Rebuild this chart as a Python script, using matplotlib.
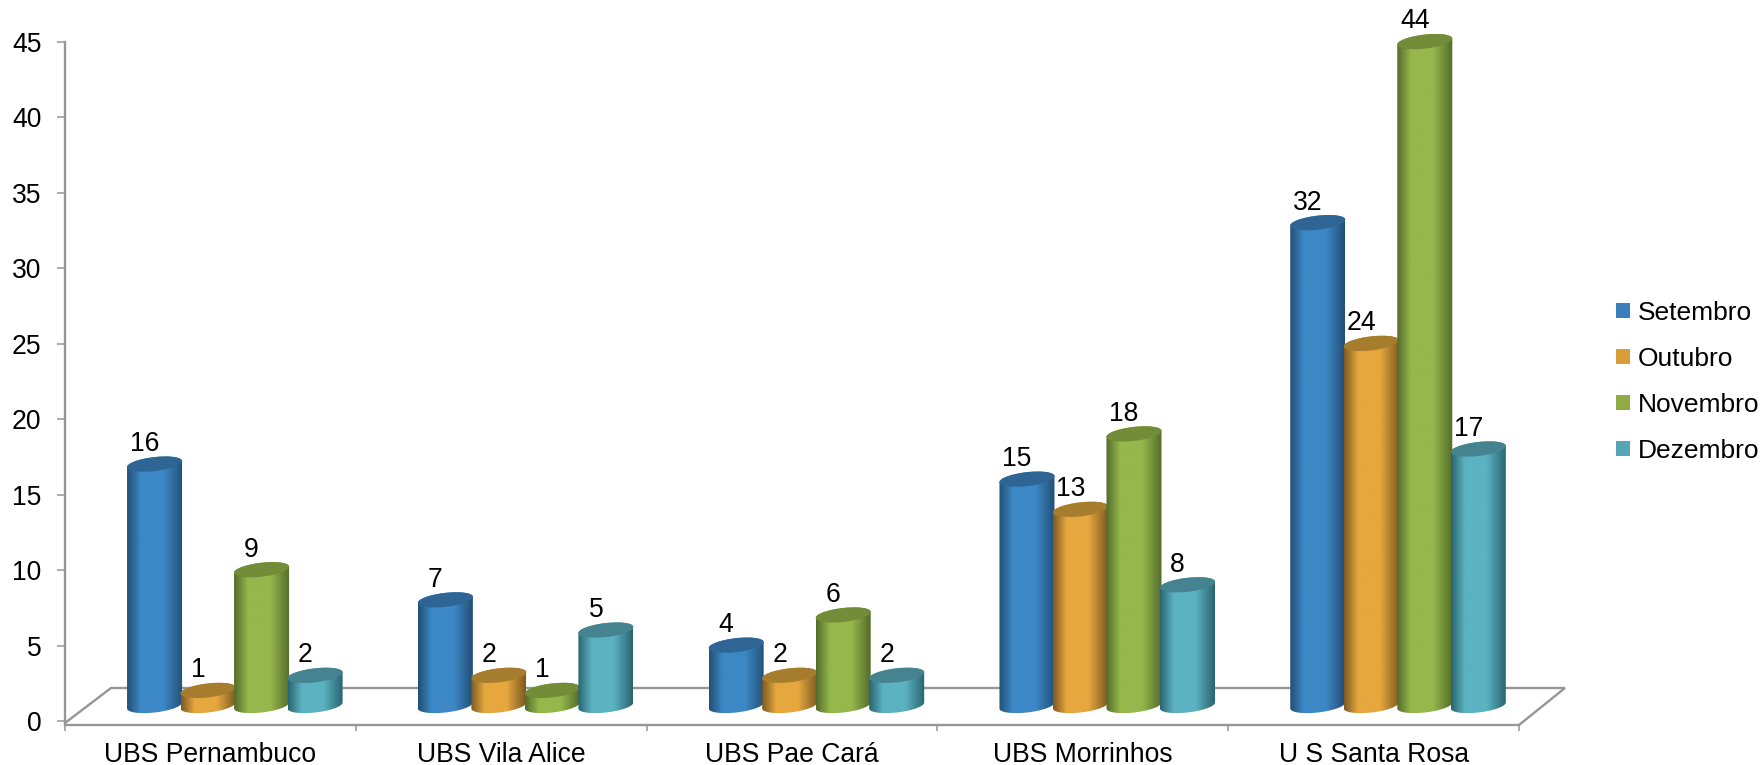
import numpy as np
import matplotlib
matplotlib.use('Agg')
import matplotlib.pyplot as plt
from matplotlib.colors import LinearSegmentedColormap
from matplotlib.patches import Patch, Polygon

categories = ['UBS Pernambuco', 'UBS Vila Alice', 'UBS Pae Cará', 'UBS Morrinhos', 'U S Santa Rosa']
setembro = [16, 7, 4, 15, 32]
outubro = [1, 2, 2, 13, 24]
novembro = [9, 1, 6, 18, 44]
dezembro = [2, 5, 2, 8, 17]
series_names = ['Setembro', 'Outubro', 'Novembro', 'Dezembro']
y_ticks = [0, 5, 10, 15, 20, 25, 30, 35, 40, 45]

# edge, middle, top ellipse, legend swatch
colors = [
    ('#234f75', '#3c88c6', '#2f6594', '#3a7ebb'),
    ('#7d5a22', '#e6a73e', '#a67c2d', '#d99d38'),
    ('#536c2b', '#95b74b', '#728c38', '#8fac45'),
    ('#2a6470', '#5cb2c1', '#468390', '#56a5b5'),
]

W, H = 1763, 765
GRAY = '#969696'
PX_X = 5 / 1454   # data units per pixel
PX_Y = 45 / 679
FS = 19.1

plt.rcParams['font.family'] = ['Liberation Sans', 'DejaVu Sans']
fig = plt.figure(figsize=(W / 100, H / 100), dpi=100, facecolor='white')
ax = fig.add_axes([65 / W, 1 - 721 / H, 1454 / W, 679 / H])


def ellipse_pts(cx, cy, t):
    # sheared ellipse, right side sits a bit higher than the left
    a = 27.5 * PX_X
    b = 7 * PX_Y
    shear = 3 * PX_Y
    return np.column_stack([cx + a * np.cos(t), cy + b * np.sin(t) + shear * np.cos(t)])


def draw_cylinder(cx, value, col):
    base = 15.5 * PX_Y
    top = base + value
    a = 27.5 * PX_X
    lower = ellipse_pts(cx, base, np.linspace(np.pi, 2 * np.pi, 50))
    upper = ellipse_pts(cx, top, np.linspace(0, np.pi, 50))
    body = Polygon(np.vstack([lower, upper]), closed=True, fc='none', ec='none', transform=ax.transData)
    ax.add_patch(body)
    body.set_clip_on(False)
    cmap = LinearSegmentedColormap.from_list('c', [(0, col[0]), (0.25, col[1]), (0.65, col[1]), (1, col[0])])
    im = ax.imshow(np.linspace(0, 1, 128).reshape(1, -1), cmap=cmap, aspect='auto', zorder=3,
                   extent=[cx - a, cx + a, base - 10 * PX_Y, top + 10 * PX_Y], interpolation='bilinear')
    # the tallest bar goes over the top of the axes
    im.set_clip_box(fig.bbox)
    im.set_clip_path(body)
    cap = ellipse_pts(cx, top, np.linspace(0, 2 * np.pi, 100))
    ax.add_patch(Polygon(cap, closed=True, fc=col[2], ec='none', zorder=3, clip_on=False))
    ax.annotate(str(value), (cx, top), xytext=(-7.2, 14.5), textcoords='offset points',
                ha='center', va='center', fontsize=FS, color='black', zorder=5, annotation_clip=False)


all_series = [setembro, outubro, novembro, dezembro]
for i in range(len(categories)):
    for j, values in enumerate(all_series):
        draw_cylinder(i + 0.308 + j * 0.184, values[i], colors[j])

# floor of the 3d box
dx, dy = 46 * PX_X, 33 * PX_Y
ax.plot([0, dx, 5 + dx, 5], [-2 * PX_Y, dy, dy, -4 * PX_Y], color=GRAY,
        lw=1.7, clip_on=False, zorder=1, solid_joinstyle='miter')

ax.set_xlim(0, 5)
ax.set_ylim(0, 45)
ax.set_yticks(y_ticks)
ax.set_xticks(range(6))
ax.set_xticklabels([])
ax.set_xticks(np.arange(5) + 0.5, categories, minor=True)
ax.tick_params(axis='x', which='major', length=4.5, width=1.1, color=GRAY)
ax.tick_params(axis='x', which='minor', length=0, pad=12.5, labelsize=FS)
ax.tick_params(axis='y', length=6, width=1.1, color=GRAY, pad=11, labelsize=FS)
for s in ['top', 'right']:
    ax.spines[s].set_visible(False)
ax.spines['bottom'].set_position(('data', -4 * PX_Y))
ax.spines['bottom'].set_color(GRAY)
ax.spines['bottom'].set_linewidth(1.7)
ax.spines['left'].set_color(GRAY)
ax.spines['left'].set_linewidth(1.7)
ax.spines['left'].set_bounds(0, 45)
ax.patch.set_alpha(0)

handles = [Patch(fc=c[3], ec='none', label=n) for c, n in zip(colors, series_names)]
fig.legend(handles=handles, loc='upper left', bbox_to_anchor=(1616 / W, 1 - 301 / H), frameon=False,
           fontsize=19, handlelength=0.53, handleheight=0.53, handletextpad=0.28, labelspacing=0.83,
           borderpad=0, borderaxespad=0)

fig.savefig('out.png', dpi=100)
